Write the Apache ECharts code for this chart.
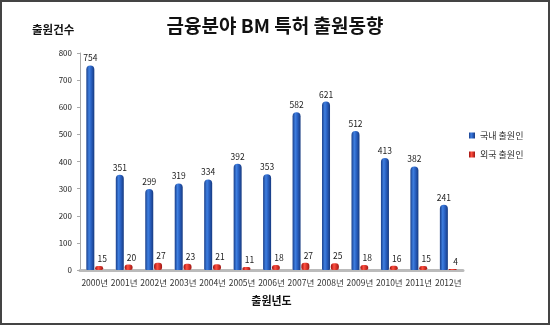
<!DOCTYPE html>
<html><head><meta charset="utf-8">
<script src="https://cdn.jsdelivr.net/npm/echarts@6/dist/echarts.min.js"></script>
<style>html,body{margin:0;padding:0;background:#fff}#c{width:550px;height:325px;box-sizing:border-box;border:2px solid #444}</style>
</head><body><div id="c"></div>
<script>
const categories = ['2000년','2001년','2002년','2003년','2004년','2005년','2006년','2007년','2008년','2009년','2010년','2011년','2012년'];
const domestic = [754,351,299,319,334,392,353,582,621,512,413,382,241];
const foreign = [15,20,27,23,21,11,18,27,25,18,16,15,4];
const seriesNames = ['국내 출원인','외국 출원인'];
const yTicks = {min:0,max:800,interval:100};

const font = '"Noto Sans CJK KR","Noto Sans",sans-serif';
const chart = echarts.init(document.getElementById('c'));
const blueGrad = new echarts.graphic.LinearGradient(0,0,1,0,[
  {offset:0,color:'#1a3f8a'},{offset:0.35,color:'#3f7fe0'},{offset:0.6,color:'#2a62c4'},{offset:1,color:'#173a80'}]);
const redGrad = new echarts.graphic.LinearGradient(0,0,1,0,[
  {offset:0,color:'#9a1010'},{offset:0.4,color:'#ff5040'},{offset:1,color:'#a01512'}]);
chart.setOption({
  animation:false,
  textStyle:{fontFamily:font},
  title:{text:'금융분야 BM 특허 출원동향',left:'center',top:9,textStyle:{fontSize:19,fontWeight:'bold',color:'#111',fontFamily:font}},
  graphic:[{type:'text',left:30,top:22,style:{text:'출원건수',fontSize:11.5,fontWeight:'bold',fill:'#111',fontFamily:font}}],
  legend:{orient:'vertical',left:462,top:124,itemWidth:6,itemHeight:6,itemGap:10,icon:'rect',
    textStyle:{fontSize:9,color:'#333',fontFamily:font},data:seriesNames},
  grid:{left:78,right:85,top:51,bottom:53},
  xAxis:{type:'category',data:categories,name:'출원년도',nameLocation:'middle',nameGap:25,
    nameTextStyle:{fontSize:11,fontWeight:'bold',color:'#111'},
    axisLine:{lineStyle:{color:'#bbb',width:3}},axisTick:{show:false},
    axisLabel:{fontSize:8.5,color:'#333',interval:0,margin:9}},
  yAxis:{type:'value',min:yTicks.min,max:yTicks.max,interval:yTicks.interval,
    axisLine:{show:true,lineStyle:{color:'#aaa'}},axisTick:{show:true,length:3,lineStyle:{color:'#aaa'}},
    splitLine:{show:false},axisLabel:{fontSize:8,color:'#222',margin:8}},
  series:[
    {name:seriesNames[0],type:'bar',data:domestic,barWidth:8,barGap:'10%',
      itemStyle:{color:blueGrad,borderRadius:[4,4,1,1]},
      label:{show:true,position:'top',fontSize:8.5,color:'#222',distance:3}},
    {name:seriesNames[1],type:'bar',data:foreign,barWidth:8,
      itemStyle:{color:redGrad,borderRadius:[3,3,2,2]},
      label:{show:true,position:'top',fontSize:8.5,color:'#222',distance:3,offset:[3,0]}}
  ]
});
</script></body></html>
